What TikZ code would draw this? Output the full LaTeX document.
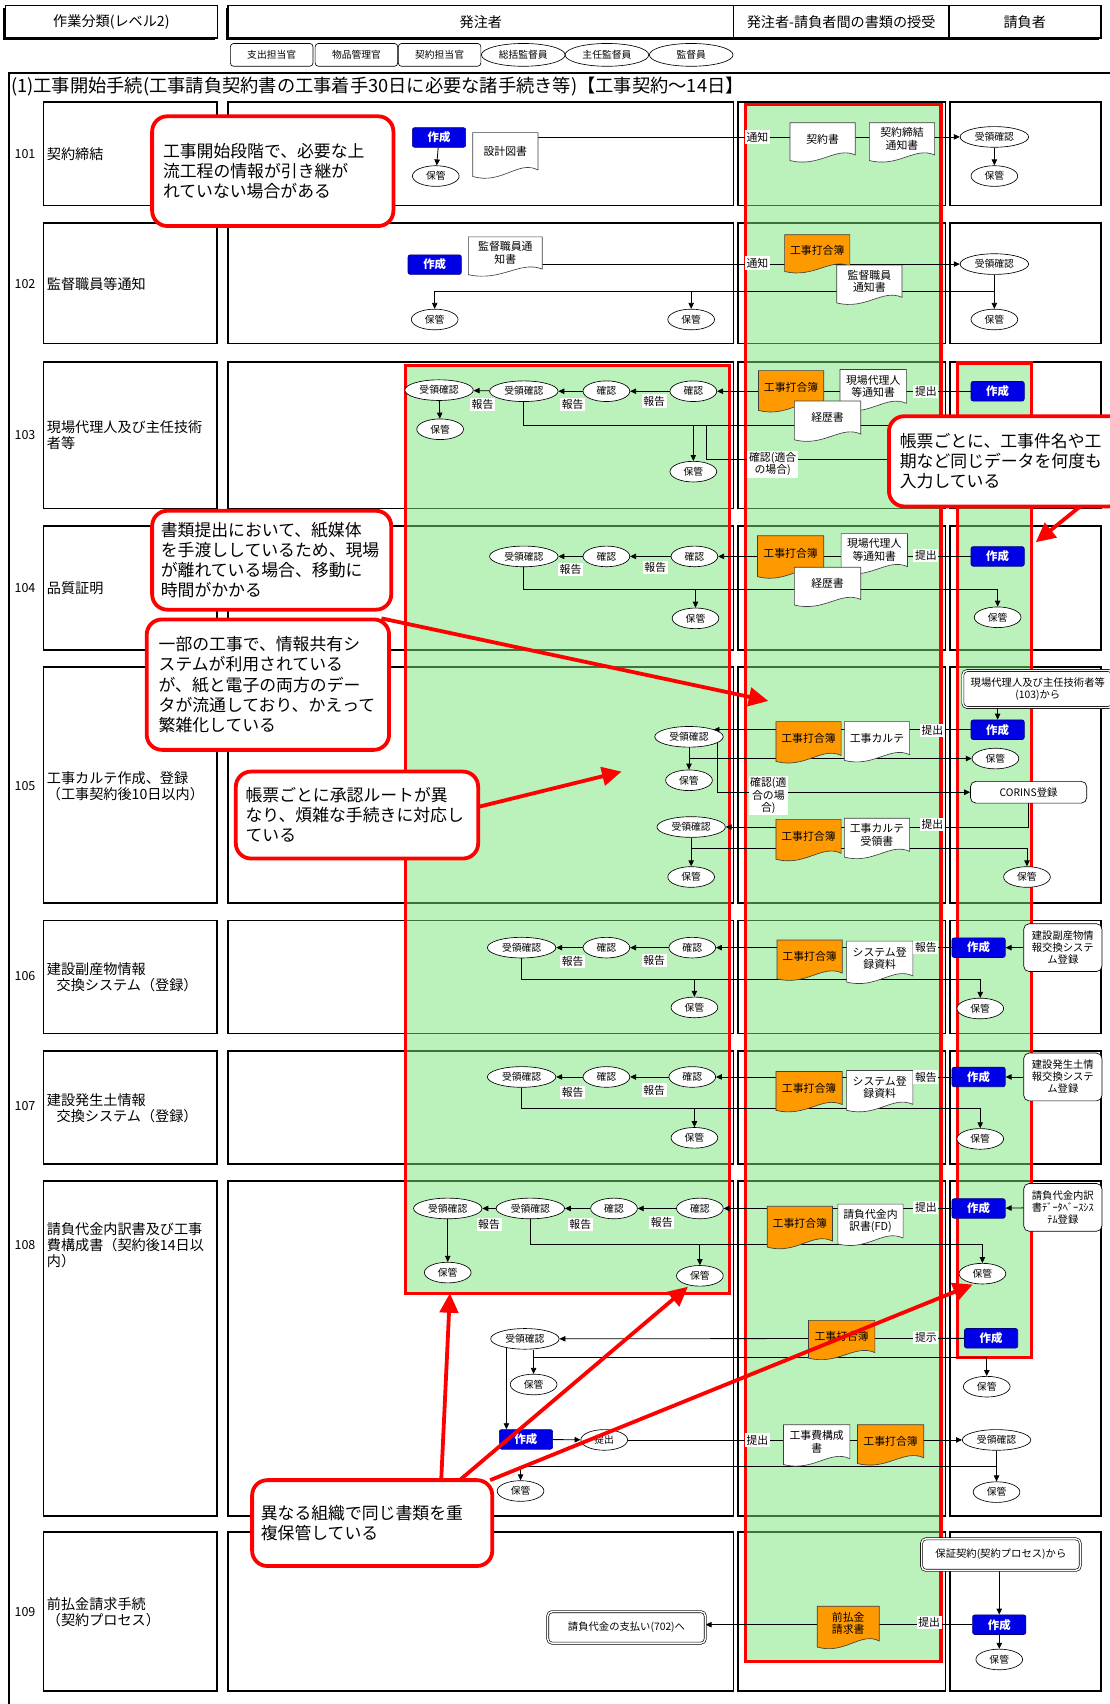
\documentclass[tikz,border=0pt]{standalone}
\usepackage{fontspec}
\setmainfont{Noto Sans CJK JP}
\usetikzlibrary{arrows.meta,shapes.geometric}
\pgfdeclarelayer{back}
\pgfdeclarelayer{grnlayer}
\pgfdeclarelayer{redlayer}
\pgfdeclarelayer{lines}
\pgfdeclarelayer{front}
\pgfsetlayers{back,grnlayer,redlayer,lines,main,front}
\definecolor{sakblue}{RGB}{0,0,230}
\definecolor{orng}{RGB}{255,153,0}
\definecolor{grnc}{RGB}{120,228,120}
\tikzset{
  sak/.style={rectangle, rounded corners=2pt, fill=sakblue, draw=blue!50!black, line width=0.6pt, text=white, font=\bfseries\fontsize{10.5}{12}\selectfont, minimum width=49pt, minimum height=18pt, inner sep=0pt},
  ov/.style={ellipse, draw, fill=white, line width=0.6pt, font=\fontsize{9}{10}\selectfont, minimum width=43pt, minimum height=19pt, inner sep=0pt},
  ovw/.style={ov, minimum width=63pt},
  lab/.style={fill=white, inner sep=1.5pt, font=\fontsize{10}{11.5}\selectfont, align=center},
  ln/.style={line width=0.75pt},
  ar/.style={ln, -{Triangle[length=5.5pt,width=5pt]}},
  rowbox/.style={draw, line width=1.6pt},
  docsh/.style={draw=black!75, line width=0.6pt},
  doctx/.style={font=\fontsize{10}{11.5}\selectfont, align=center, inner sep=0pt},
  sysb/.style={draw, rounded corners=5pt, fill=white, line width=0.6pt, align=center, font=\fontsize{9.5}{11}\selectfont, inner sep=1pt},
  dbox/.style={draw, double, double distance=1.3pt, line width=0.6pt, rounded corners=4pt, fill=white, align=center, font=\fontsize{9.5}{11.5}\selectfont, inner sep=1pt},
  cbox/.style={draw=red, line width=3.5pt, rounded corners=14pt, fill=white, align=left, font=\fontsize{15.5}{18.5}\selectfont, inner sep=0pt},
  redarr/.style={draw=red, line width=3.5pt, -{Triangle[length=18pt,width=17pt]}},
  redfr/.style={draw=red, line width=3pt},
  grn/.style={fill=grnc, fill opacity=0.5},
  hdr/.style={draw, line width=1.5pt, fill=white, font=\fontsize{13}{15}\selectfont, inner sep=0pt, minimum height=30pt},
  subr/.style={draw, fill=white, rounded corners=3pt, line width=0.6pt, font=\fontsize{9}{10}\selectfont, minimum width=76pt, minimum height=21pt, inner sep=0pt},
  sube/.style={ellipse, draw, fill=white, line width=0.6pt, font=\fontsize{9}{10}\selectfont, minimum width=77pt, minimum height=21pt, inner sep=0pt},
  rnum/.style={font=\fontsize{11.5}{13}\selectfont, inner sep=0pt},
  rlab/.style={font=\fontsize{13}{15}\selectfont, anchor=west, align=left, inner sep=0pt},
}
% document shape: name, x1, y1, x2, y2, fill, text
\newcommand{\mydoc}[7]{%
  \pgfmathsetmacro{\dwx}{#4-#2}\pgfmathsetmacro{\dhy}{#5-#3}%
  \filldraw[docsh, fill=#6] (#2,#3) -- (#4,#3) -- (#4,{#5-0.2*\dhy}) .. controls ({#4-0.3*\dwx},{#5-0.42*\dhy}) and ({#2+0.45*\dwx},{#5+0.12*\dhy}) .. (#2,{#5-0.06*\dhy}) -- cycle;
  \node[doctx] (#1) at ({(#2+#4)/2},{#3+0.4*\dhy}) {#7};
}
\begin{document}
\begin{tikzpicture}[x=1pt,y=-1pt]
\useasboundingbox (0,0) rectangle (1021,1568);
\begin{pgfonlayer}{back}
\fill[white] (0,0) rectangle (1021,1568);
\fill[black] (3,7) rectangle (198,37);
\fill[black] (208,7) rectangle (1011,37);
\draw[line width=1.8pt] (8,1568) -- (8,67) -- (1021,67);
\foreach \ya/\yb in {94/189,205/316,333/468,484/598,614/831,847/951,967/1071,1087/1395,1410/1556}{
  \draw[rowbox] (40,\ya) rectangle (200,\yb);
  \draw[rowbox] (210,\ya) rectangle (675,\yb);
  \draw[rowbox] (679,\ya) rectangle (870,\yb);
  \draw[rowbox] (874,\ya) rectangle (1013,\yb);
}
\end{pgfonlayer}
\begin{pgfonlayer}{grnlayer}
\fill[grn] (373,336) rectangle (671,1190);
\fill[grn] (686,96) rectangle (866,1529);
\fill[grn] (881,334) rectangle (949,1249);
\end{pgfonlayer}
\begin{pgfonlayer}{redlayer}
\draw[redfr] (373,336) rectangle (671,1190);
\draw[redfr] (686,96) rectangle (866,1529);
\draw[redfr] (881,334) rectangle (949,1249);
\end{pgfonlayer}

% header
\node[hdr, minimum width=195pt] (hA) at (102.5,20) {作業分類(レベル2)};
\node[hdr, minimum width=465pt] (hB) at (442.5,20) {発注者};
\node[hdr, minimum width=198pt] (hC) at (774,20) {発注者-請負者間の書類の授受};
\node[hdr, minimum width=140pt] (hD) at (943,20) {請負者};
\node[subr] (sb1) at (250,50.5) {支出担当官};
\node[subr] (sb2) at (328,50.5) {物品管理官};
\node[subr] (sb3) at (404.5,50.5) {契約担当官};
\node[sube] (sb4) at (481.5,50.5) {総括監督員};
\node[sube] (sb5) at (558.5,50.5) {主任監督員};
\node[sube] (sb6) at (636,50.5) {監督員};
\node[anchor=west, inner sep=0pt, font=\fontsize{16.8}{19}\selectfont] (ttl) at (10,80) {(1)工事開始手続(工事請負契約書の工事着手30日に必要な諸手続き等)【工事契約～14日】};

% row labels
\node[rnum] (n101) at (23,142) {101};
\node[rnum] (n102) at (23,261) {102};
\node[rnum] (n103) at (23,400) {103};
\node[rnum] (n104) at (23,541) {104};
\node[rnum] (n105) at (23,723) {105};
\node[rnum] (n106) at (23,898) {106};
\node[rnum] (n107) at (23,1018) {107};
\node[rnum] (n108) at (23,1146) {108};
\node[rnum] (n109) at (23,1483) {109};
\node[rlab] (l101) at (43,142) {契約締結};
\node[rlab] (l102) at (43,261) {監督職員等通知};
\node[rlab] (l103) at (43,400.5) {現場代理人及び主任技術\\者等};
\node[rlab] (l104) at (43,541) {品質証明};
\node[rlab] (l105) at (43,723.5) {工事カルテ作成、登録\\（工事契約後10日以内）};
\node[rlab] (l106) at (43,899.5) {建設副産物情報\\\hspace*{9pt}交換システム（登録）};
\node[rlab] (l107) at (43,1019.5) {建設発生土情報\\\hspace*{9pt}交換システム（登録）};
\node[rlab] (l108) at (43,1146) {請負代金内訳書及び工事\\費構成書（契約後14日以\\内）};
\node[rlab] (l109) at (43,1483.5) {前払金請求手続\\（契約プロセス）};

% ---------- 101
\node[sak] (s101) at (404,126.5) {作成};
\node[ov] (h101a) at (401,162) {保管};
\mydoc{d101a}{435}{122}{495}{165}{white}{設計図書}
\node[lab] (t101) at (697,126) {通知};
\mydoc{d101b}{727}{113}{787}{150}{white}{契約書}
\mydoc{d101c}{800}{113}{860}{150}{white}{契約締結\\通知書}
\node[ovw] (j101) at (915,126) {受領確認};
\node[ov] (h101b) at (915,162) {保管};

% ---------- 102
\node[sak] (s102) at (400,243.5) {作成};
\mydoc{d102a}{431}{218}{499}{255}{white}{監督職員通\\知書}
\node[lab] (t102) at (697,242) {通知};
\mydoc{d102b}{722}{216}{782}{252}{orng}{工事打合簿}
\mydoc{d102c}{770}{244}{830}{281}{white}{監督職員\\通知書}
\node[ovw] (j102) at (915,243) {受領確認};
\node[ov] (h102a) at (400,294) {保管};
\node[ov] (h102b) at (636,294) {保管};
\node[ov] (h102c) at (915,294) {保管};
\coordinate (c102) at (915,268);

% ---------- 103
\node[ovw] (j103a) at (404,359) {受領確認};
\node[ovw] (j103b) at (482,360) {受領確認};
\node[ov] (k103a) at (558,360) {確認};
\node[ov] (k103b) at (638,360) {確認};
\node[lab] (r103a) at (444,372) {報告};
\node[lab] (r103b) at (527,372) {報告};
\node[lab] (r103c) at (602,369) {報告};
\node[ov] (h103a) at (405,395) {保管};
\node[ov] (h103b) at (638,434) {保管};
\mydoc{d103a}{698}{341}{758}{380}{orng}{工事打合簿}
\mydoc{d103b}{773}{340}{834}{379}{white}{現場代理人\\等通知書}
\mydoc{d103c}{731}{369}{792}{407}{white}{経歴書}
\node[lab] (t103) at (852,360) {提出};
\node[sak] (s103) at (918,360) {作成};
\node[lab] (q103) at (711,427) {確認(適合\\の場合)};
\coordinate (e103a) at (900,391);
\coordinate (e103b) at (900,423);
\coordinate (c103) at (650,391);

% ---------- 104
\node[ovw] (j104) at (482,512) {受領確認};
\node[ov] (k104a) at (558,512) {確認};
\node[ov] (k104b) at (639,512) {確認};
\node[lab] (r104a) at (525,524) {報告};
\node[lab] (r104b) at (603,522) {報告};
\mydoc{d104a}{697}{493}{758}{533}{orng}{工事打合簿}
\mydoc{d104b}{774}{491}{835}{529}{white}{現場代理人\\等通知書}
\mydoc{d104c}{731}{522}{792}{559}{white}{経歴書}
\node[lab] (t104) at (852,511) {提出};
\node[sak] (s104) at (918,512) {作成};
\node[ov] (h104a) at (640,569) {保管};
\node[ov] (h104b) at (918,568) {保管};
\coordinate (c104) at (918,542);

% ---------- 105
\node[dbox, minimum width=138pt, minimum height=34pt] (f105) at (955,634) {現場代理人及び主任技術者等\\(103)から};
\node[sak] (s105a) at (918,671.5) {作成};
\node[lab] (t105a) at (858,672) {提出};
\mydoc{d105a}{714}{664}{774}{703}{orng}{工事打合簿}
\mydoc{d105b}{777}{664}{837}{702}{white}{工事カルテ}
\node[ovw] (j105a) at (634,678) {受領確認};
\node[ov] (h105a) at (634,718) {保管};
\node[ov] (h105b) at (916,698) {保管};
\node[sysb, minimum width=107pt, minimum height=20pt] (cor) at (946.5,729) {CORINS登録};
\node[lab] (q105) at (707,732) {確認(適\\合の場\\合)};
\node[ovw] (j105b) at (636,761) {受領確認};
\node[ov] (h105c) at (636,807) {保管};
\node[ov] (h105d) at (945,807) {保管};
\mydoc{d105c}{714}{754}{774}{793}{orng}{工事打合簿}
\mydoc{d105d}{777}{753}{837}{791}{white}{工事カルテ\\受領書}
\node[lab] (t105b) at (858,759) {提出};
\coordinate (c105a) at (634,698);
\coordinate (c105b) at (660,683);
\coordinate (c105d) at (636,781);

% ---------- 106
\node[ovw] (j106) at (480,872) {受領確認};
\node[ov] (k106a) at (558,872) {確認};
\node[ov] (k106b) at (637,872) {確認};
\node[lab] (r106a) at (527,885) {報告};
\node[lab] (r106b) at (602,884) {報告};
\mydoc{d106a}{715}{865}{775}{903}{orng}{工事打合簿}
\mydoc{d106b}{779}{866}{840}{906}{white}{システム登\\録資料}
\node[lab] (t106) at (852,872) {報告};
\node[sak] (s106) at (900.5,872) {作成};
\node[sysb, minimum width=72pt, minimum height=44pt] (y106) at (978,872) {建設副産物情\\報交換システ\\ム登録};
\node[ov] (h106a) at (639,927) {保管};
\node[ov] (h106b) at (902,928) {保管};
\coordinate (c106) at (902,901);

% ---------- 107
\node[ovw] (j107) at (480,991) {受領確認};
\node[ov] (k107a) at (558,991) {確認};
\node[ov] (k107b) at (637,991) {確認};
\node[lab] (r107a) at (527,1005) {報告};
\node[lab] (r107b) at (602,1003) {報告};
\mydoc{d107a}{714}{986}{775}{1024}{orng}{工事打合簿}
\mydoc{d107b}{779}{985}{840}{1024}{white}{システム登\\録資料}
\node[lab] (t107) at (852,991) {報告};
\node[sak] (s107) at (900.5,991) {作成};
\node[sysb, minimum width=72pt, minimum height=44pt] (y107) at (978,991) {建設発生土情\\報交換システ\\ム登録};
\node[ov] (h107a) at (639,1047) {保管};
\node[ov] (h107b) at (902,1048) {保管};
\coordinate (c107) at (902,1020);

% ---------- 108
\node[ovw] (j108a) at (412,1112) {受領確認};
\node[ovw] (j108b) at (488,1112) {受領確認};
\node[ov] (k108a) at (565,1112) {確認};
\node[ov] (k108b) at (644,1112) {確認};
\node[lab] (r108a) at (450,1127) {報告};
\node[lab] (r108b) at (534,1127) {報告};
\node[lab] (r108c) at (609,1125) {報告};
\node[ov] (h108a) at (412,1171) {保管};
\node[ov] (h108b) at (644,1174) {保管};
\node[ov] (h108c) at (904,1172) {保管};
\mydoc{d108a}{706}{1110}{766}{1150}{orng}{工事打合簿}
\mydoc{d108b}{771}{1108}{831}{1147}{white}{請負代金内\\訳書(FD)}
\node[lab] (t108a) at (852,1111) {提出};
\node[sak] (s108a) at (900.5,1112) {作成};
\node[sysb, minimum width=72pt, minimum height=44pt] (y108) at (978,1111) {請負代金内訳\\書ﾃﾞｰﾀﾍﾞｰｽｼｽ\\ﾃﾑ登録};
\coordinate (c108a) at (904,1145);

\node[sak] (s108b) at (912,1231.5) {作成};
\node[lab] (t108b) at (852,1231) {提示};
\mydoc{d108c}{744}{1215}{805}{1252}{orng}{工事打合簿}
\node[ovw] (j108c) at (483,1232) {受領確認};
\node[ov] (h108d) at (491,1274) {保管};
\node[ov] (h108e) at (908,1276) {保管};
\coordinate (c108b) at (491,1249);
\coordinate (c108c) at (466,1240);
\node[sak] (s108c) at (484,1324.5) {作成};
\node[ov] (p108) at (556,1325) {提出};
\node[lab] (t108c) at (697,1325) {提出};
\mydoc{d108d}{721}{1311}{782}{1350}{white}{工事費構成\\書}
\mydoc{d108e}{789}{1311}{850}{1349}{orng}{工事打合簿}
\node[ovw] (j108d) at (917,1325) {受領確認};
\node[ov] (h108f) at (917,1373) {保管};
\node[ov] (h108g) at (479,1372) {保管};
\coordinate (c108d) at (917,1349);

% ---------- 109
\node[dbox, minimum width=146pt, minimum height=29pt] (f109) at (921,1430.5) {保証契約(契約プロセス)から};
\node[sak] (s109) at (919.5,1495) {作成};
\node[ov] (h109) at (919.5,1527) {保管};
\node[lab] (t109) at (855,1493) {提出};
\mydoc{d109}{752}{1478}{809}{1518}{orng}{前払金\\請求書}
\node[dbox, minimum width=145pt, minimum height=29pt] (g109) at (576.5,1497.5) {請負代金の支払い(702)へ};

% ---------- connectors
\begin{pgfonlayer}{lines}
\draw[ar] (s101) -- (h101a);
\draw[ar] (d101a |- j101) -- (j101);
\draw[ar] (j101) -- (h101b);

\draw[ar] (d102a |- j102) -- (j102);
\draw[ar] (j102) -- (h102c);
\draw[ar] (c102) -| (h102a);
\draw[ar] (h102b |- c102) -- (h102b);

\draw[ar] (s103) -- (k103b);
\draw[ar] (k103b) -- (k103a);
\draw[ar] (k103a) -- (j103b);
\draw[ar] (j103b) -- (j103a);
\draw[ar] (j103a) -- (h103a);
\draw[ln] (j103b) |- (e103a);
\draw[ar] (h103b |- e103a) -- (h103b);
\draw[ln] (c103) |- (e103b);

\draw[ar] (s104) -- (k104b);
\draw[ar] (k104b) -- (k104a);
\draw[ar] (k104a) -- (j104);
\draw[ar] (j104) |- (c104) -- (h104b);
\draw[ar] (h104a |- c104) -- (h104a);

\draw[ar] (f105.south -| s105a) -- (s105a);
\draw[ar] (s105a) -- (s105a -| j105a.north east);
\draw[ar] (j105a) -- (h105a);
\draw[ar] (c105a) -- (h105b);
\draw[ar] (c105b) |- (cor);
\draw[ar] (cor.south) |- (j105b);
\draw[ar] (j105b) -- (h105c);
\draw[ar] (c105d) -| (h105d);

\draw[ar] (y106) -- (s106);
\draw[ar] (s106) -- (k106b);
\draw[ar] (k106b) -- (k106a);
\draw[ar] (k106a) -- (j106);
\draw[ar] (j106) |- (c106) -- (h106b);
\draw[ar] (h106a |- c106) -- (h106a);

\draw[ar] (y107) -- (s107);
\draw[ar] (s107) -- (k107b);
\draw[ar] (k107b) -- (k107a);
\draw[ar] (k107a) -- (j107);
\draw[ar] (j107) |- (c107) -- (h107b);
\draw[ar] (h107a |- c107) -- (h107a);

\draw[ar] (y108) -- (s108a);
\draw[ar] (s108a) -- (k108b);
\draw[ar] (k108b) -- (k108a);
\draw[ar] (k108a) -- (j108b);
\draw[ar] (j108b) -- (j108a);
\draw[ar] (j108a) -- (h108a);
\draw[ar] (j108b) |- (c108a) -- (h108c);
\draw[ar] (h108b |- c108a) -- (h108b);

\draw[ar] (s108b) -- (j108c);
\draw[ar] (j108c.south -| c108b) -- (h108d);
\draw[ar] (c108b) -| (h108e);
\draw[ar] (c108c) -- (c108c |- s108c.north);
\draw[ar] (s108c) -- (p108);
\draw[ar] (p108) -- (j108d);
\draw[ar] (j108d) -- (h108f);
\draw[ar] (c108d) -| (h108g);

\draw[ar] (f109.south -| s109) -- (s109);
\draw[ar] (s109) -- (h109);
\draw[ar] (s109) -- (s109 -| g109.east);
\end{pgfonlayer}

% ---------- red arrows, callouts
\begin{pgfonlayer}{front}
\coordinate (a2s) at (994,466); \coordinate (a2e) at (953,499);
\coordinate (a4s) at (351,569); \coordinate (a4e) at (707,645);
\coordinate (a5s) at (438,743); \coordinate (a5e) at (572,710);
\coordinate (a6s1) at (406,1362); \coordinate (a6e1) at (414,1190);
\coordinate (a6s2) at (423,1362); \coordinate (a6e2) at (633,1184);
\coordinate (a6s3) at (451,1362); \coordinate (a6e3) at (895,1182);
\draw[redarr] (a2s) -- (a2e);
\draw[redarr] (a4s) -- (a4e);
\draw[redarr] (a5s) -- (a5e);
\draw[redarr] (a6s1) -- (a6e1);
\draw[redarr] (a6s2) -- (a6e2);
\draw[redarr] (a6s3) -- (a6e3);

\node[cbox, minimum width=222pt, minimum height=101pt, text width=202pt] (co1) at (251,157.5) {工事開始段階で、必要な上\\流工程の情報が引き継が\\れていない場合がある};
\node[cbox, minimum width=217pt, minimum height=83pt, text width=197pt] (co2) at (926.5,424.5) {帳票ごとに、工事件名や工\\期など同じデータを何度も\\入力している};
\node[cbox, minimum width=220pt, minimum height=91pt, text width=204pt] (co3) at (250,515.5) {書類提出において、紙媒体\\を手渡ししているため、現場\\が離れている場合、移動に\\時間がかかる};
\node[cbox, minimum width=223pt, minimum height=120pt, text width=201pt] (co4) at (246.5,630) {一部の工事で、情報共有シ\\ステムが利用されている\\が、紙と電子の両方のデー\\タが流通しており、かえって\\繁雑化している};
\node[cbox, minimum width=223pt, minimum height=80pt, text width=205pt] (co5) at (328.5,750) {帳票ごとに承認ルートが異\\なり、煩雑な手続きに対応し\\ている};
\node[cbox, minimum width=221pt, minimum height=79pt, text width=205pt] (co6) at (342.5,1401.5) {異なる組織で同じ書類を重\\複保管している};
\end{pgfonlayer}
\end{tikzpicture}
\end{document}
